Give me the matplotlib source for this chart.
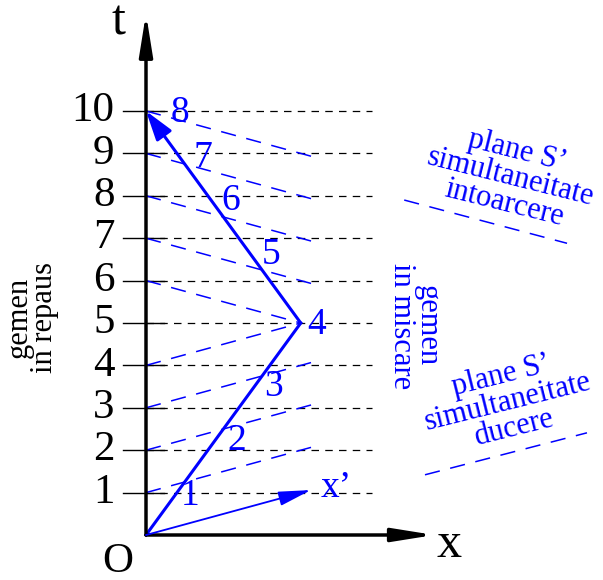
import numpy as np
import matplotlib
matplotlib.use('Agg')
import matplotlib.pyplot as plt

plt.rcParams['font.family'] = ['Liberation Serif', 'DejaVu Serif']

# date
ticks = [1, 2, 3, 4, 5, 6, 7, 8, 9, 10]
tick_labels = ['1', '2', '3', '4', '5', '6', '7', '8', '9', '10']
# linia de univers a gemenului in miscare
world_x = [0, 3.65, 0]
world_t = [0, 5, 10]
# ceasul gemenului in miscare
clock_labels = ['1', '2', '3', '4', '5', '6', '7', '8']
clock_x = [1.04, 2.15, 3.0, 4.03, 2.95, 2.0, 1.34, 0.8]
clock_t = [0.92, 2.22, 3.49, 4.95, 6.6, 7.88, 8.89, 9.95]
# plane de simultaneitate S'
slope = 0.274
out_t0 = [1, 2, 3, 4]
out_xend = [3.92, 3.92, 3.92, 3.65]
back_t0 = [6, 7, 8, 9, 10]
back_xend = [3.65, 3.9, 3.9, 3.9, 3.9]
# axa x'
xp_end = [3.89, 1.06]
# linii de legenda
leg_top_x = [6.09, 9.93]
leg_top_t = [7.90, 6.88]
leg_bot_x = [6.58, 10.4]
leg_bot_t = [1.42, 2.41]

blue = '#0000ff'

fig = plt.figure(figsize=(6.03, 5.80), dpi=100)
ax = fig.add_axes([0, 0, 1, 1])
ax.set_xlim(-146 / 42.4, (603 - 146) / 42.4)
ax.set_ylim(-45 / 42.4, 535 / 42.4)
ax.axis('off')

# linii orizontale punctate si gradatii
for t in ticks:
    ax.plot([0, 5.33], [t, t], color='k', lw=0.9, ls=(0, (6, 5)))
    ax.plot([-0.55, 0.42], [t, t], color='k', lw=1.0)
for t, lab in zip(ticks, tick_labels):
    ax.text(-0.74, t, lab, ha='right', va='center', fontsize=31)

# plane de simultaneitate
for t0, xe in zip(out_t0, out_xend):
    ax.plot([0, xe], [t0, t0 + slope * xe], color=blue, lw=1.1, ls=(0, (10, 7)))
for t0, xe in zip(back_t0, back_xend):
    ax.plot([0, xe], [t0, t0 - slope * xe], color=blue, lw=1.1, ls=(0, (10, 7)))

# axe
ax.annotate('', xy=(0, 12.3), xytext=(0, 0),
            arrowprops=dict(arrowstyle='-|>,head_length=1.25,head_width=0.2',
                            lw=2.5, color='k', shrinkA=0, shrinkB=0, mutation_scale=20))
ax.annotate('', xy=(6.8, 0), xytext=(0, 0),
            arrowprops=dict(arrowstyle='-|>,head_length=1.25,head_width=0.2',
                            lw=2.5, color='k', shrinkA=0, shrinkB=0, mutation_scale=20))
ax.text(-0.66, 12.1, 't', ha='center', va='center', fontsize=36)
ax.text(7.15, -0.22, 'x', ha='center', va='center', fontsize=36)
ax.text(-0.66, -0.64, 'O', ha='center', va='center', fontsize=31)

# linia de univers
ax.plot(world_x[:2], world_t[:2], color=blue, lw=2.2)
ax.annotate('', xy=(world_x[2], world_t[2]), xytext=(world_x[1], world_t[1]),
            arrowprops=dict(arrowstyle='-|>,head_length=0.9,head_width=0.28',
                            lw=2.2, color=blue, shrinkA=0, shrinkB=0, mutation_scale=20))
for lab, x, t in zip(clock_labels, clock_x, clock_t):
    ax.text(x, t, lab, color=blue, ha='center', va='center', fontsize=27)

# axa x'
ax.annotate('', xy=(xp_end[0], xp_end[1]), xytext=(0, 0),
            arrowprops=dict(arrowstyle='-|>,head_length=1.0,head_width=0.22',
                            lw=1.3, color=blue, shrinkA=0, shrinkB=0, mutation_scale=20))
ax.text(4.13, 1.11, 'x’', color=blue, ha='left', va='center', fontsize=27)

# texte
ax.text(-2.69, 5.12, 'gemen\nin repaus', rotation=90, ha='center', va='center',
        multialignment='center', linespacing=0.8, fontsize=22)
ax.text(6.32, 4.93, 'gemen\nin miscare', rotation=-90, ha='center', va='center',
        multialignment='center', linespacing=0.85, fontsize=22, color=blue)
ax.text(8.6, 8.44, 'plane S’\nsimultaneitate\nintoarcere', rotation=-14,
        rotation_mode='anchor', ha='center', va='center', multialignment='center',
        linespacing=0.9, fontsize=22, color=blue)
ax.text(8.54, 3.14, 'plane S’\nsimultaneitate\nducere', rotation=14,
        rotation_mode='anchor', ha='center', va='center', multialignment='center',
        linespacing=0.9, fontsize=22, color=blue)
ax.plot(leg_top_x, leg_top_t, color=blue, lw=1.1, ls=(0, (10, 7)))
ax.plot(leg_bot_x, leg_bot_t, color=blue, lw=1.1, ls=(0, (10, 7)))

fig.savefig('out.png', dpi=100)
